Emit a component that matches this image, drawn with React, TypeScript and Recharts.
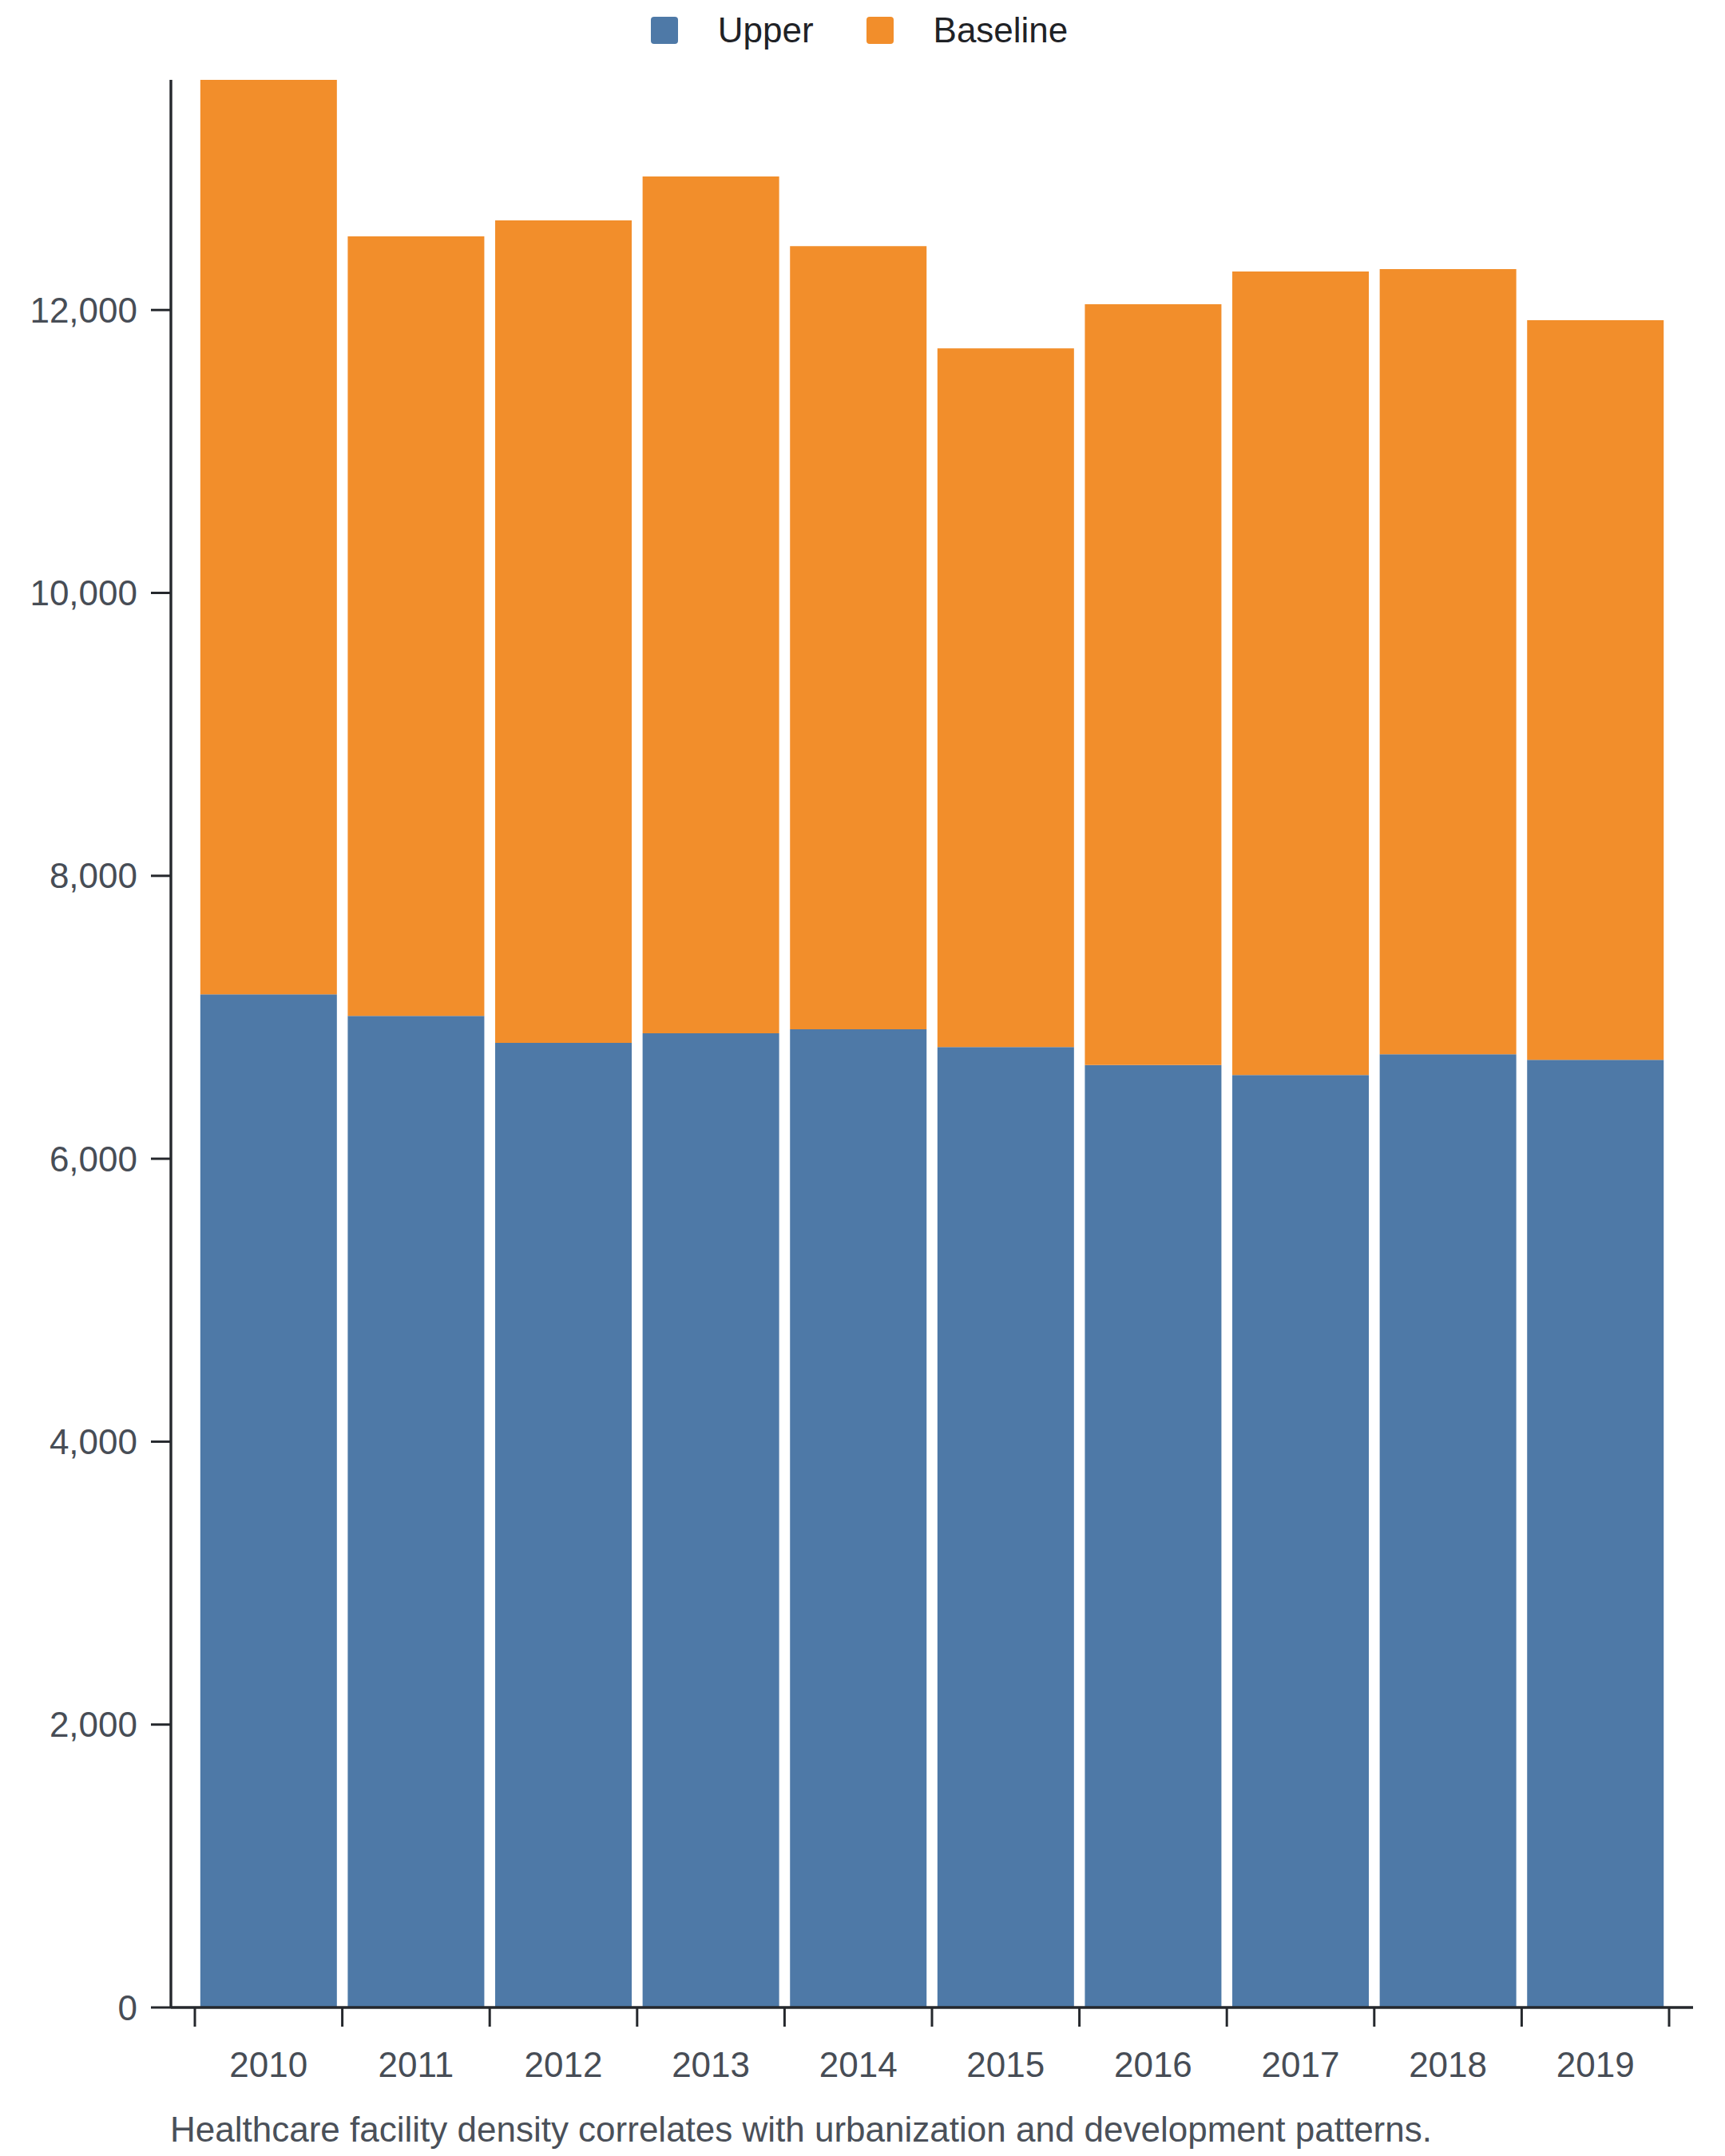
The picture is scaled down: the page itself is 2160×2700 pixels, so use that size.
import { BarChart, Bar, XAxis, YAxis, Legend } from 'recharts'

const years = ['2010', '2011', '2012', '2013', '2014', '2015', '2016', '2017', '2018', '2019']
const upper = [7162, 7009, 6819, 6887, 6915, 6789, 6663, 6592, 6738, 6699]
const baseline = [6465, 5512, 5815, 6057, 5536, 4940, 5378, 5680, 5551, 5229]
const yTicks = [0, 2000, 4000, 6000, 8000, 10000, 12000]
const seriesNames = ['Upper', 'Baseline']

const data = years.map((year, i) => ({ year, upper: upper[i], baseline: baseline[i] }))

const FONT = '"Liberation Sans", Arial, sans-serif'
const AXIS = '#25282d'
const LABEL = '#474d56'
const TICK_SIZE = 24
const TICK_MARGIN = 32

// x ticks sit on the band edges, labels in the band centre
function YearTick(props: any) {
  const { x, y, payload, index } = props
  const half = payload.offset || 0
  const lineY = y - TICK_MARGIN - TICK_SIZE
  return (
    <g>
      <line x1={x - half} x2={x - half} y1={lineY} y2={lineY + TICK_SIZE} stroke={AXIS} strokeWidth={3} />
      {index === years.length - 1 && (
        <line x1={x + half} x2={x + half} y1={lineY} y2={lineY + TICK_SIZE} stroke={AXIS} strokeWidth={3} />
      )}
      <text x={x} y={y} dy="0.71em" textAnchor="middle" fill={LABEL} fontSize={44} fontFamily={FONT}>
        {payload.value}
      </text>
    </g>
  )
}

function LegendContent(props: any) {
  const items = [...(props.payload || [])].sort(
    (a: any, b: any) => seriesNames.indexOf(a.value) - seriesNames.indexOf(b.value)
  )
  return (
    <div
      style={{
        display: 'flex',
        justifyContent: 'center',
        alignItems: 'flex-start',
        height: 100,
        paddingTop: 21,
        paddingRight: 8,
        boxSizing: 'border-box',
        fontFamily: FONT,
        fontSize: 44,
        lineHeight: '34px',
        color: '#1f2226'
      }}>
      {items.map((item: any, i: number) => (
        <div key={item.value} style={{ display: 'flex', alignItems: 'flex-start', marginRight: i < items.length - 1 ? 66 : 0 }}>
          <div style={{ width: 34, height: 34, borderRadius: 4, background: item.color, marginRight: 50 }} />
          <span>{item.value}</span>
        </div>
      ))}
    </div>
  )
}

export default function App() {
  return (
    <div style={{ position: 'absolute', left: 0, top: 0, width: 2160, height: 2700, background: '#fff' }}>
      <BarChart
        width={2160}
        height={2640}
        data={data}
        barCategoryGap="3.7%"
        margin={{ top: 0, right: 40, left: 0, bottom: 0 }}>
        <Legend
          verticalAlign="top"
          content={<LegendContent />}
          wrapperStyle={{ top: 0, left: 0, width: 2160, height: 100 }}
        />
        <XAxis
          dataKey="year"
          height={126}
          padding={{ left: 30, right: 30 }}
          axisLine={{ stroke: AXIS, strokeWidth: 3.4 }}
          tickLine={false}
          tickSize={TICK_SIZE}
          tickMargin={TICK_MARGIN}
          interval={0}
          tick={<YearTick />}
        />
        <YAxis
          width={214}
          domain={[0, 'dataMax']}
          ticks={yTicks}
          interval={0}
          axisLine={{ stroke: AXIS, strokeWidth: 3.4 }}
          tickLine={{ stroke: AXIS, strokeWidth: 3 }}
          tickSize={25}
          tickMargin={17}
          tickFormatter={(v: number) => v.toLocaleString('en-US')}
          tick={{ fill: LABEL, fontSize: 44, fontFamily: FONT }}
        />
        <Bar dataKey="upper" name={seriesNames[0]} stackId="a" fill="#4e79a7" isAnimationActive={false} />
        <Bar dataKey="baseline" name={seriesNames[1]} stackId="a" fill="#f28e2b" isAnimationActive={false} />
      </BarChart>
      <div
        style={{
          position: 'absolute',
          left: 213,
          top: 2642,
          fontFamily: FONT,
          fontSize: 44,
          color: '#4a5059',
          whiteSpace: 'nowrap'
        }}>
        Healthcare facility density correlates with urbanization and development patterns.
      </div>
    </div>
  )
}
